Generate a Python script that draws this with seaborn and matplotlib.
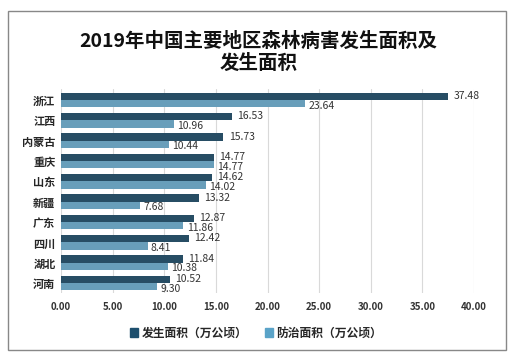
import matplotlib
matplotlib.use('Agg')
import matplotlib.pyplot as plt
import pandas as pd
import seaborn as sns
from matplotlib.patches import Rectangle

regions = ['浙江', '江西', '内蒙古', '重庆', '山东', '新疆', '广东', '四川', '湖北', '河南']
occur = [37.48, 16.53, 15.73, 14.77, 14.62, 13.32, 12.87, 12.42, 11.84, 10.52]
control = [23.64, 10.96, 10.44, 14.77, 14.02, 7.68, 11.86, 8.41, 10.38, 9.30]
series = ['发生面积（万公顷）', '防治面积（万公顷）']
ticks = [0, 5, 10, 15, 20, 25, 30, 35, 40]

df = pd.DataFrame({
    'region': regions * 2,
    'value': occur + control,
    'series': [series[0]] * len(regions) + [series[1]] * len(regions),
})

sns.set_style('white')
plt.rcParams['font.family'] = ['Noto Sans CJK SC', 'DejaVu Sans']

fig = plt.figure(figsize=(5.17, 3.59), dpi=100)
ax = fig.add_axes([0.118, 0.183, 0.799, 0.57])
sns.barplot(data=df, y='region', x='value', hue='series', orient='h',
            palette=['#1d4f6e', '#5aa3c8'], width=0.72, ax=ax,
            edgecolor='none', legend=False)

for i, (a, b) in enumerate(zip(occur, control)):
    ax.text(a + 0.5, i - 0.2, f'{a:.2f}', va='center', ha='left', fontsize=7.5, color='#333333')
    ax.text(b + 0.3, i + 0.28, f'{b:.2f}', va='center', ha='left', fontsize=7.5, color='#333333')

ax.set_xlim(0, 40)
ax.set_xticks(ticks)
ax.set_xticklabels([f'{t:.2f}' for t in ticks], fontsize=7, fontweight='bold', color='#333333')
ax.set_ylim(len(regions) - 0.5, -0.55)
ax.tick_params(axis='y', labelsize=8, length=0, pad=4)
ax.tick_params(axis='x', length=0, pad=6)
for lab in ax.get_yticklabels():
    lab.set_fontweight('bold')
ax.set_xlabel('')
ax.set_ylabel('')
ax.grid(axis='x', color='#d9d9d9', linewidth=0.8)
ax.set_axisbelow(True)
for s in ax.spines.values():
    s.set_visible(False)

# legend
handles = [Rectangle((0, 0), 1, 1, color=c) for c in ['#1d4f6e', '#5aa3c8']]
fig.legend(handles, series, loc='center', bbox_to_anchor=(0.495, 0.072), ncol=2,
           frameon=False, handlelength=0.7, handleheight=0.7,
           columnspacing=1.5, handletextpad=0.3,
           prop={'family': ['Noto Sans CJK SC', 'DejaVu Sans'], 'weight': 'bold', 'size': 8.5})

fig.text(0.5, 0.853, '2019年中国主要地区森林病害发生面积及\n发生面积', ha='center', va='center',
         fontsize=14, fontweight='bold', linespacing=1.2, color='#111111')

fig.patches.append(Rectangle((0.016, 0.025), 0.962, 0.945, transform=fig.transFigure,
                             fill=False, edgecolor='#888888', linewidth=1))

fig.savefig('out.png', dpi=100)
